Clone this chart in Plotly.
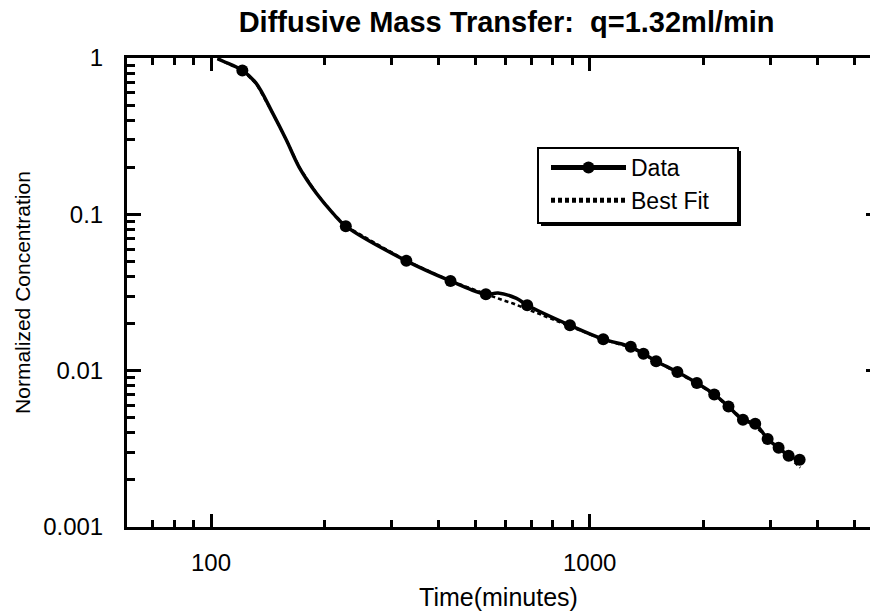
import math
import plotly.graph_objects as go

# ---- data (time in minutes, normalized concentration) ----
# measured points (drawn with markers)
data_t = [121, 227, 328, 429, 532, 684, 887, 1086, 1284, 1387, 1498, 1705, 1919,
          2133, 2326, 2540, 2737, 2951, 3155, 3353, 3585]
data_c = [0.833, 0.084, 0.0504, 0.0375, 0.0308, 0.0262, 0.0195, 0.0159, 0.0142,
          0.01285, 0.0115, 0.0098, 0.00833, 0.00705, 0.0059, 0.00485, 0.00457,
          0.00366, 0.00321, 0.00286, 0.00269]
# points along the drawn data curve between the markers (no marker)
curve_t = [104, 108, 131.5, 145.5, 158, 171, 190, 210, 573, 641]
curve_c = [0.99, 0.95, 0.69, 0.444, 0.30, 0.20, 0.136, 0.1015, 0.0314, 0.0290]

# best-fit curve
fit_t = [104, 108, 121, 131.5, 145.5, 158, 171, 190, 210, 227, 328, 429, 532, 591,
         628, 661, 887, 1086, 1284, 1498, 1705, 1919, 2133, 2326, 2540, 2737, 2951,
         3155, 3353, 3600]
fit_c = [0.99, 0.95, 0.833, 0.69, 0.444, 0.30, 0.20, 0.136, 0.1015, 0.084, 0.0504,
         0.0375, 0.0308, 0.0282, 0.0269, 0.0256, 0.0193, 0.0158, 0.0141, 0.0115,
         0.0098, 0.0083, 0.0070, 0.0059, 0.0049, 0.0044, 0.0037, 0.0032, 0.0028,
         0.0024]

x_major = [100, 1000]
x_major_text = ["100", "1000"]
x_minor = [70, 80, 90, 200, 300, 400, 500, 600, 700, 800, 900, 2000, 3000, 4000, 5000]
y_major = [0.001, 0.01, 0.1, 1]
y_major_text = ["0.001", "0.01", "0.1", "1"]
y_minor = [m * d for d in (0.001, 0.01, 0.1) for m in range(2, 10)]
y_right = [0.01, 0.1]

# combine data points with curve-only points
pts = sorted([(t, c, True) for t, c in zip(data_t, data_c)] +
             [(t, c, False) for t, c in zip(curve_t, curve_c)])
all_t = [p[0] for p in pts]
all_c = [p[1] for p in pts]
msize = [12 if p[2] else 0 for p in pts]

FONT = "Liberation Sans, Arial, Helvetica, sans-serif"

W, H = 872, 612
ML, MR, MT, MB = 127, 2, 58, 85
PW, PH = W - ML - MR, H - MT - MB


def px(x):  # page pixel x -> paper fraction
    return (x - ML) / PW


def py(y):  # page pixel y -> paper fraction
    return (H - MB - y) / PH


# legend frame with drop shadow (decoration)
LEG_L, LEG_T, LEG_R, LEG_B = 538, 148, 738, 223
shapes = [
    dict(type="rect", xref="paper", yref="paper", layer="above",
         x0=px(LEG_L + 3), x1=px(LEG_R + 3), y0=py(LEG_B + 3), y1=py(LEG_T + 3),
         fillcolor="black", line=dict(width=0)),
    dict(type="rect", xref="paper", yref="paper", layer="above",
         x0=px(LEG_L), x1=px(LEG_R), y0=py(LEG_B), y1=py(LEG_T),
         fillcolor="white", line=dict(color="black", width=2)),
]

fig = go.Figure()
fig.add_trace(go.Scatter(
    x=fit_t, y=fit_c, mode="lines", name="Best Fit",
    line=dict(color="black", width=2.5, dash="4px,3px"),
))
fig.add_trace(go.Scatter(
    x=all_t, y=all_c, mode="lines+markers", name="Data",
    line=dict(color="black", width=3.5, shape="spline", smoothing=1.0),
    marker=dict(color="black", size=msize, opacity=1, line=dict(width=0)),
))
fig.add_trace(go.Scatter(x=[], y=[], yaxis="y2", showlegend=False, hoverinfo="skip"))

fig.update_layout(
    width=W, height=H,
    margin=dict(l=ML, r=MR, t=MT, b=MB),
    paper_bgcolor="white", plot_bgcolor="white",
    font=dict(family=FONT, color="black"),
    title=dict(text="<b>Diffusive Mass Transfer:\u00a0\u00a0q=1.32ml/min</b>",
               x=0.581, xref="container", xanchor="center",
               y=1 - 22 / 612, yref="container", yanchor="middle",
               font=dict(size=29, family=FONT, color="black")),
    xaxis=dict(
        type="log", range=[math.log10(60), math.log10(5500)], automargin=False,
        showline=True, linewidth=3, linecolor="black", mirror="ticks",
        ticks="inside", ticklen=13, tickwidth=2.5, tickcolor="black",
        tickvals=x_major, ticktext=x_major_text,
        minor=dict(ticks="inside", ticklen=7, tickwidth=2.5, tickcolor="black",
                   tickvals=x_minor, showgrid=False),
        showgrid=False, zeroline=False,
        tickfont=dict(size=24), ticklabelstandoff=12,
        title=dict(text="Time(minutes)", font=dict(size=25), standoff=14),
    ),
    yaxis=dict(
        type="log", range=[-3, 0], automargin=False,
        showline=True, linewidth=3, linecolor="black", mirror=False,
        ticks="inside", ticklen=14, tickwidth=2.5, tickcolor="black",
        tickvals=y_major, ticktext=y_major_text,
        minor=dict(ticks="inside", ticklen=8, tickwidth=2.5, tickcolor="black",
                   tickvals=y_minor, showgrid=False),
        showgrid=False, zeroline=False,
        tickfont=dict(size=24), ticklabelstandoff=16,
        title=dict(text="Normalized Concentration", font=dict(size=21), standoff=7),
    ),
    yaxis2=dict(
        type="log", range=[-3, 0], overlaying="y", side="right", anchor="x",
        automargin=False,
        showline=False, ticks="inside", ticklen=4, tickwidth=3, tickcolor="black",
        tickvals=y_right, showticklabels=False, showgrid=False, zeroline=False,
    ),
    legend=dict(
        x=px(546), y=py(146), xanchor="left", yanchor="top",
        bgcolor="rgba(0,0,0,0)", borderwidth=0,
        font=dict(size=23, family=FONT), itemwidth=75, itemsizing="constant",
        traceorder="reversed", tracegroupgap=0,
    ),
    shapes=shapes,
    showlegend=True,
)

fig.write_html("out.html")
